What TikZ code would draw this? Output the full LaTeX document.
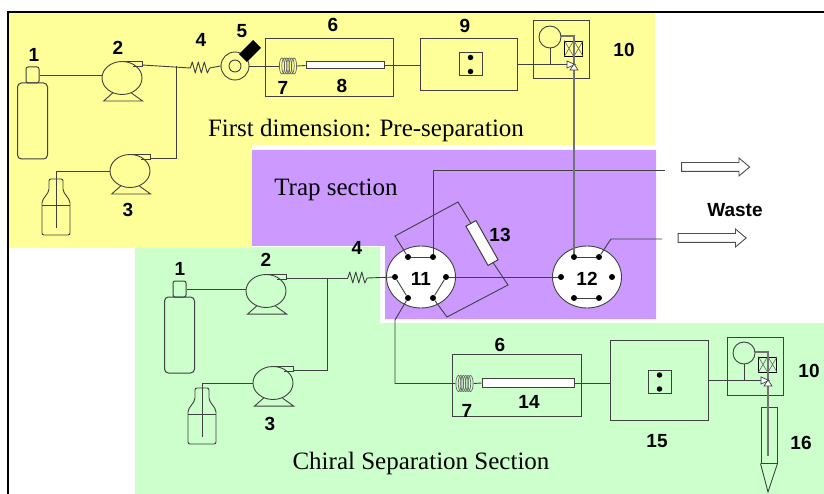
\documentclass[tikz,border=0pt]{standalone}
\usepackage{fontspec}
\setmainfont{Liberation Serif}
\setsansfont{Liberation Sans}
\usepackage{tikz}
\usetikzlibrary{shapes.geometric,shapes.arrows}
\definecolor{first area}{HTML}{FFFF99}
\definecolor{trap area}{HTML}{CC99FF}
\definecolor{chiral area}{HTML}{CCFFCC}
\colorlet{tube edge}{black!75}
\tikzset{tube/.style={draw=tube edge, line width=0.9pt},
	flow/.style={draw=black!55, line width=1.5pt},
	partbox/.style={draw=tube edge, line width=1pt, rectangle, inner sep=0pt},
	pumpbody/.style={draw=tube edge, line width=0.9pt, ellipse, inner sep=0pt, minimum width=40, minimum height=33},
	valvebody/.style={draw=tube edge, line width=0.9pt, ellipse, fill=white, inner sep=0pt, minimum width=69, minimum height=62},
	port/.style={circle, fill=black, inner sep=0pt, minimum size=6},
	wastearrow/.style={draw=black!70, line width=0.9pt, single arrow, inner sep=4pt, minimum height=68, minimum width=17, single arrow head extend=4.5pt, single arrow tip angle=80},
	num/.style={font=\sffamily\bfseries\fontsize{19}{19}\selectfont, inner sep=0pt},
	section/.style={font=\fontsize{25}{26}\selectfont, inner sep=0pt}}
\newcommand{\pump}[2]{
	\node[pumpbody] (#1) at (#2) {};
	\draw[tube] (#1.-122) -- ++(-9,8) -- ++(39,0) -- (#1.-58);
	\draw[tube] ([shift={(-1,-16.5)}]#1.center) -- ++(21,0) -- ++(0,4.5) -- ++(-9,0);
	\coordinate (#1out) at ([shift={(20,-13)}]#1.center);
}
\newcommand{\cylinder}[2]{
	\node[partbox, rounded corners=4, minimum width=30, minimum height=76] (#1) at (#2) {};
	\node[partbox, rounded corners=2, minimum width=13, minimum height=16, anchor=south] (#1cap) at ([yshift=-1pt]#1.north) {};
}
\newcommand{\bottle}[2]{
	\begin{scope}[shift={(#2)}]
		\coordinate (#1) at (0,0);
		\coordinate (#1end) at (0,49);
		\draw[tube, rounded corners=2] (-7,0) -- (-7,12) -- (-14,22) -- (-14,56) -- (14,56) -- (14,22) -- (7,12) -- (7,0) -- cycle;
		\draw[tube] (-14,26) -- (14,26);
	\end{scope}
}
\newcommand{\coil}[2]{
	\node[draw=none, inner sep=0pt, minimum width=18, minimum height=17] (#1) at (#2) {};
	\foreach \i in {-6,-3.6,...,6.1}
		\draw[draw=black!60, line width=0.7pt] ([xshift=\i]#1.center) ellipse (2.6 and 8);
}
\newcommand{\spring}[2]{
	\node[inner sep=0pt, minimum width=19, minimum height=12] (#1) at (#2) {};
	\draw[tube, line join=round] (#1.west) -- ++(2,-6) -- ++(3,11) -- ++(3,-11) -- ++(3,11) -- ++(3,-11) -- ++(3,11) -- (#1.east);
}
\newcommand{\valve}[3]{
	\node[valvebody] (#1) at (#2) {};
	\node[port] (#1a) at ([shift={(-13,-20)}]#1.center) {};
	\node[port] (#1b) at ([shift={(12,-20)}]#1.center) {};
	\node[port] (#1c) at ([shift={(-26,0)}]#1.center) {};
	\node[port] (#1d) at ([shift={(25,0)}]#1.center) {};
	\node[port] (#1e) at ([shift={(-13,21)}]#1.center) {};
	\node[port] (#1f) at ([shift={(12,21)}]#1.center) {};
	\node[num] at ([yshift=-2pt]#1.center) {#3};
}
\newcommand{\oven}[2]{
	\node[partbox, minimum width=23, minimum height=23] (#1) at (#2) {};
	\node[port, minimum size=5.5] at ([yshift=7pt]#1.center) {};
	\node[port, minimum size=5.5] at ([yshift=-7pt]#1.center) {};
}
\newcommand{\detector}[2]{
	\node[partbox, minimum width=56, minimum height=58] (#1) at (#2) {};
	\node[draw=tube edge, line width=0.9pt, circle, inner sep=0pt, minimum size=22] (#1lamp) at ([shift={(-11,-13)}]#1.center) {};
	\node[draw=black, line width=0.8pt, inner sep=0pt, minimum width=8.5, minimum height=15] (#1x) at ([shift={(8,-1.5)}]#1.center) {};
	\node[draw=black, line width=0.8pt, inner sep=0pt, minimum width=8.5, minimum height=15] (#1y) at ([shift={(17.5,-1.5)}]#1.center) {};
	\draw[black!60, line width=0.6pt] (#1x.north west) -- (#1x.south east) (#1x.north east) -- (#1x.south west)
		(#1y.north west) -- (#1y.south east) (#1y.north east) -- (#1y.south west);
	\coordinate (#1in) at ([shift={(6,14)}]#1.center);
	\draw[tube] (#1lamp.south) -- ++(0,16);
}
\newcommand{\flowcell}[1]{
	\draw[tube, fill=white, line width=0.7pt] ([shift={(6,11)}]#1.center) -- ++(8,3.5) -- ++(-8,3.5) -- cycle;
	\draw[tube, fill=white, line width=0.7pt] ([shift={(13,14)}]#1.center) -- ++(4,6) -- ++(-8,0) -- cycle;
}

\begin{document}
\begin{tikzpicture}[x=1pt,y=-1pt]
	\useasboundingbox (0,0) rectangle (824,494);
	% coloured sections
	\fill[first area] (9,13) -- (655,13) -- (655,145) -- (252,145) -- (252,248) -- (9,248) -- cycle;
	\fill[chiral area] (135,248) -- (252,248) -- (252,247) -- (380,247) -- (380,323) -- (824,323) -- (824,494) -- (135,494) -- cycle;
	\fill[trap area] (252,150) -- (656,150) -- (656,319) -- (385,319) -- (385,246) -- (252,246) -- cycle;
	\draw[line width=2pt] (8,494) -- (8,12) -- (824,12);
	\node[section] at (366,130) {First dimension: Pre-separation};
	\node[section] at (336,190) {Trap section};
	\node[section] at (421,463) {Chiral Separation Section};

	% first dimension
	\cylinder{tank}{32.5,121}
	\pump{pumpa}{122,78}
	\pump{pumpb}{130,171}
	\bottle{jar}{56,179}
	\spring{springa}{200,68}
	\node[draw=tube edge, line width=0.9pt, circle, inner sep=0pt, minimum size=28] (inject) at (235,66) {};
	\node[draw=tube edge, line width=0.9pt, circle, inner sep=0pt, minimum size=12] (loop) at (235,66) {};
	\node[fill=black, inner sep=0pt, minimum width=20, minimum height=11, rotate=45] (handle) at (250,51) {};
	\node[partbox, minimum width=128, minimum height=58] (ovena) at (329,68) {};
	\coil{coila}{288,66}
	\node[partbox, fill=white, minimum width=78, minimum height=7] (column) at (345,65.5) {};
	\node[partbox, minimum width=97, minimum height=52] (uva) at (468.5,65) {};
	\oven{slotA}{470.5,64.5}
	\detector{deta}{561,50}
	\draw[tube] (tankcap.east) -- (pumpa.west |- tankcap.east);
	\draw[tube] (pumpaout) -- (springa.west);
	\draw[tube] (pumpbout) -| (176,66);
	\draw[tube] (pumpb.west) -| (jarend);
	\draw[tube] (springa.east) -- (inject.west);
	\draw[tube] (inject.east) -- (coila.west);
	\draw[tube] (coila.east) -- (column.west);
	\draw[tube] (column.east) -- (uva.west |- column.east);
	\draw[tube] (uva.east |- detain) -- (detain);

	% trap section
	\valve{sw}{421,277}{11}
	\valve{sx}{587,277}{12}
	\node[partbox, fill=white, minimum width=45, minimum height=11.5, rotate=-60.5] (trap) at (482,243) {};
	\coordinate (loopa) at (395,236);
	\coordinate (loopb) at (458,202);
	\coordinate (loopc) at (508,285);
	\coordinate (loopd) at (447,317);
	\draw[tube] (swa) -- (loopa) -- (loopb) -- (trap.west);
	\draw[tube] (trap.east) -- (loopc) -- (loopd) -- (swf);
	\draw[tube] (swa) -- (swb);
	\draw[tube] (swc) -- (swe);
	\draw[tube] (swd) -- (swf);
	\draw[tube] (sxa) -- (sxb);
	\draw[tube] (sxe) -- (sxf);
	\draw[tube] (swd) -- (sxc);
	\coordinate (wastea) at (665,170);
	\coordinate (wasteb) at (611,239);
	\coordinate (wastec) at (662,239);
	\draw[tube] (swb) -- (swb |- wastea) -- (wastea);
	\draw[tube] (sxb) -- (wasteb) -- (wastec);
	\draw[flow] (detalamp.5) -| (sxa);
	\flowcell{deta}
	\node[wastearrow] (arrowa) at (713,167) {};
	\node[wastearrow] (arrowb) at (709.5,238) {};

	% chiral separation
	\cylinder{tankb}{179.5,335}
	\pump{pumpc}{266,291}
	\pump{pumpd}{273,383}
	\bottle{jarb}{202,388}
	\spring{springb}{357.5,278}
	\node[partbox, minimum width=129, minimum height=62] (ovenb) at (516.5,385) {};
	\coil{coilb}{464.5,383.5}
	\node[partbox, fill=white, minimum width=92, minimum height=9.5] (columnb) at (528,383) {};
	\node[partbox, minimum width=98, minimum height=80] (uvb) at (659,380) {};
	\oven{slotB}{659.5,382}
	\detector{detb}{755,366}
	\node[partbox, minimum width=16, minimum height=56] (vial) at (769,435) {};
	\coordinate (viala) at (768,492);
	\coordinate (vialb) at (768,456);
	\draw[tube] (tankbcap.east) -- (pumpc.west |- tankbcap.east);
	\draw[tube] (pumpcout) -- (springb.west);
	\draw[tube] (pumpdout) -| (327,278);
	\draw[tube] (pumpd.west) -| (jarbend);
	\draw[tube] (springb.east) -- (swc);
	\draw[tube] (swe) -- (395,320) |- (coilb.west);
	\draw[tube] (coilb.east) -- (columnb.west);
	\draw[tube] (columnb.east) -- (uvb.west |- columnb.east);
	\draw[tube] (uvb.east |- detbin) -- (detbin);
	\draw[tube] (vial.south west) -- (viala) -- (vial.south east);
	\draw[flow] (detblamp.5) -| (vialb);
	\flowcell{detb}

	% part numbers
	\node[num] at (34,55) {1};
	\node[num] at (118,48) {2};
	\node[num] at (128,210) {3};
	\node[num] at (201,40) {4};
	\node[num] at (242,31) {5};
	\node[num] at (333,25) {6};
	\node[num] at (283,88) {7};
	\node[num] at (342,86) {8};
	\node[num] at (465,26) {9};
	\node[num] at (624,50) {10};
	\node[num] at (500,235) {13};
	\node[num] at (735,210) {Waste};
	\node[num] at (180,269) {1};
	\node[num] at (266,260) {2};
	\node[num] at (270,424) {3};
	\node[num] at (357,248) {4};
	\node[num] at (500,345) {6};
	\node[num] at (467,411) {7};
	\node[num] at (529,402) {14};
	\node[num] at (657,441) {15};
	\node[num] at (809,371) {10};
	\node[num] at (801,443) {16};
\end{tikzpicture}
\end{document}
